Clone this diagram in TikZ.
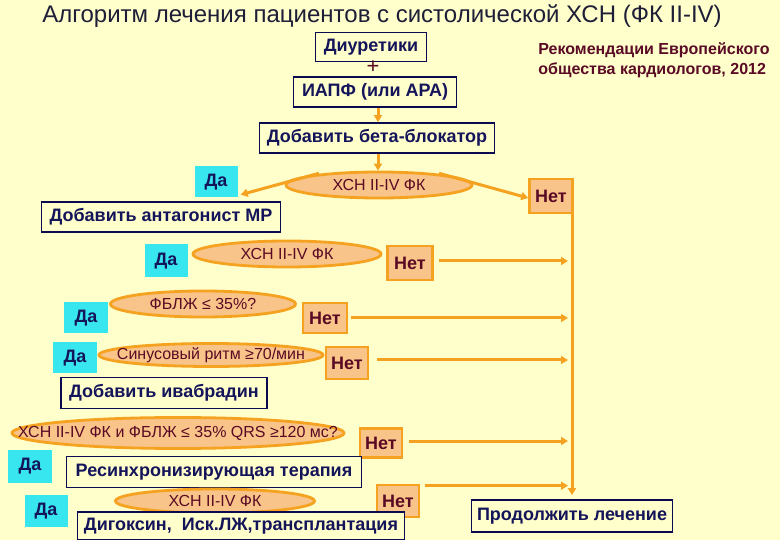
\documentclass[tikz,border=0pt]{standalone}
\usepackage{fontspec}
\setmainfont{Liberation Sans}
\usetikzlibrary{shapes.geometric}
\usetikzlibrary{arrows.meta}

\definecolor{paper}{HTML}{FFFFCC}
\definecolor{ink}{HTML}{14145A}
\definecolor{boxline}{HTML}{0A0A50}
\definecolor{amber}{HTML}{F5A220}
\definecolor{peach}{HTML}{F8C489}
\definecolor{wine}{HTML}{5A0A24}
\definecolor{aqua}{HTML}{38E6F0}
\definecolor{headline}{HTML}{1E1E38}

\tikzset{
    action/.style={draw=boxline, line width=1.8pt, fill=paper, text=ink,
        font=\fontsize{18}{20}\selectfont\bfseries, inner sep=0pt},
    yesbox/.style={fill=aqua, text=ink, font=\fontsize{18}{20}\selectfont\bfseries,
        inner sep=0pt},
    nobox/.style={draw=amber, line width=2.6pt, fill=peach, text=wine,
        font=\fontsize{18}{20}\selectfont\bfseries, inner sep=0pt},
    query/.style={ellipse, draw=amber, line width=2.8pt, fill=peach, text=wine,
        font=\fontsize{16}{18}\selectfont, inner xsep=-45pt, inner ysep=-3pt},
    flow/.style={draw=amber, line width=3pt, -{Triangle[length=7pt,width=8pt]}},
}

\begin{document}
\begin{tikzpicture}[x=1pt, y=-1pt]
        \fill[paper] (0, 0) rectangle (780, 540);
        \useasboundingbox (0, 0) rectangle (780, 540);

        \node[text=headline, font=\fontsize{24}{26}\selectfont] (title) at (382, 16)
            {Алгоритм лечения пациентов с систолической ХСН (ФК II-IV)};
        \node[text=wine, font=\fontsize{16}{20}\selectfont\bfseries, align=left] (source) at (654, 60)
            {Рекомендации Европейского\\общества кардиологов, 2012};

        \node[action, minimum width=111pt, minimum height=29pt] (diur) at (371, 47) {Диуретики};
        \node[text=wine, font=\fontsize{22}{22}\selectfont] (plus) at (373, 67) {+};
        \node[action, minimum width=163pt, minimum height=30pt] (acei) at (375, 92) {ИАПФ (или АРА)};
        \node[action, minimum width=235pt, minimum height=30pt] (beta) at (377, 138) {Добавить бета-блокатор};

        \node[query, minimum width=186pt, minimum height=26pt] (q1) at (379, 185) {ХСН II-IV ФК};
        \node[yesbox, minimum width=43pt, minimum height=31pt] (yes1) at (216, 182) {Да};
        \node[nobox, minimum width=43pt, minimum height=34pt] (no1) at (551, 196) {Нет};

        \node[action, minimum width=239pt, minimum height=30pt] (mra) at (161, 217) {Добавить антагонист МР};
        \node[yesbox, minimum width=43pt, minimum height=33pt] (yes2) at (166, 261) {Да};
        \node[query, minimum width=188pt, minimum height=26pt] (q2) at (287, 254) {ХСН II-IV ФК};
        \node[nobox, minimum width=45pt, minimum height=34pt] (no2) at (410, 263) {Нет};

        \node[query, minimum width=185pt, minimum height=26pt] (q3) at (203, 304) {ФБЛЖ ≤ 35\%?};
        \node[yesbox, minimum width=44pt, minimum height=31pt] (yes3) at (86, 318) {Да};
        \node[nobox, minimum width=44pt, minimum height=30pt] (no3) at (325, 318) {Нет};

        \node[yesbox, minimum width=44pt, minimum height=31pt] (yes4) at (75, 358) {Да};
        \node[query, minimum width=224pt, minimum height=23pt] (q4) at (211, 355) {Синусовый ритм ≥70/мин};
        \node[nobox, minimum width=42pt, minimum height=32pt] (no4) at (347, 363) {Нет};
        \node[action, minimum width=206pt, minimum height=31pt] (ivab) at (164, 393) {Добавить ивабрадин};

        \node[query, minimum width=332pt, minimum height=31pt] (q5) at (178, 433) {ХСН II-IV ФК и ФБЛЖ ≤ 35\% QRS ≥120 мс?};
        \node[nobox, minimum width=42pt, minimum height=29pt] (no5) at (381, 443) {Нет};
        \node[yesbox, minimum width=44pt, minimum height=33pt] (yes5) at (30, 466) {Да};
        \node[action, minimum width=295pt, minimum height=31pt] (crt) at (214, 472) {Ресинхронизирующая терапия};

        \node[yesbox, minimum width=43pt, minimum height=32pt] (yes6) at (46, 511) {Да};
        \node[query, minimum width=199pt, minimum height=24pt] (q6) at (215, 501) {ХСН II-IV ФК};
        \node[nobox, minimum width=42pt, minimum height=32pt] (no6) at (398, 501) {Нет};
        \node[action, minimum width=327pt, minimum height=28pt] (dig) at (241, 526) {Дигоксин,\ \ Иск.ЛЖ,трансплантация};

        \node[action, minimum width=201pt, minimum height=32pt] (cont) at (572, 516) {Продолжить лечение};

        % main line
        \draw[flow] (acei.south -| 378, 0) -- (beta.north -| 378, 0);
        \draw[flow] (beta.south -| 378, 0) -- (q1.north -| 378, 0);
        \draw[flow] ([xshift=-5pt]q1.168) -- ([xshift=3pt, yshift=3pt]yes1.south east);
        \draw[flow] ([xshift=5pt]q1.12) -- ([yshift=-2pt]no1.west);

        % right side
        \draw[flow, shorten >=4pt] (no1.south -| cont.north) -- (cont.north);
        \draw[flow, shorten <=5pt, shorten >=4pt] ([yshift=2pt]no2.east) -- ([yshift=2pt]no2.east -| cont.north);
        \draw[flow, shorten <=3pt, shorten >=4pt] (no3.east) -- (no3.east -| cont.north);
        \draw[flow, shorten <=8pt, shorten >=4pt] ([yshift=3pt]no4.east) -- ([yshift=3pt]no4.east -| cont.north);
        \draw[flow, shorten <=6pt, shorten >=4pt] ([yshift=2pt]no5.east) -- ([yshift=2pt]no5.east -| cont.north);
        \draw[flow, shorten <=5pt, shorten >=4pt] ([yshift=-2pt]no6.north east) -- ([yshift=-2pt]no6.north east -| cont.north);
\end{tikzpicture}
\end{document}
